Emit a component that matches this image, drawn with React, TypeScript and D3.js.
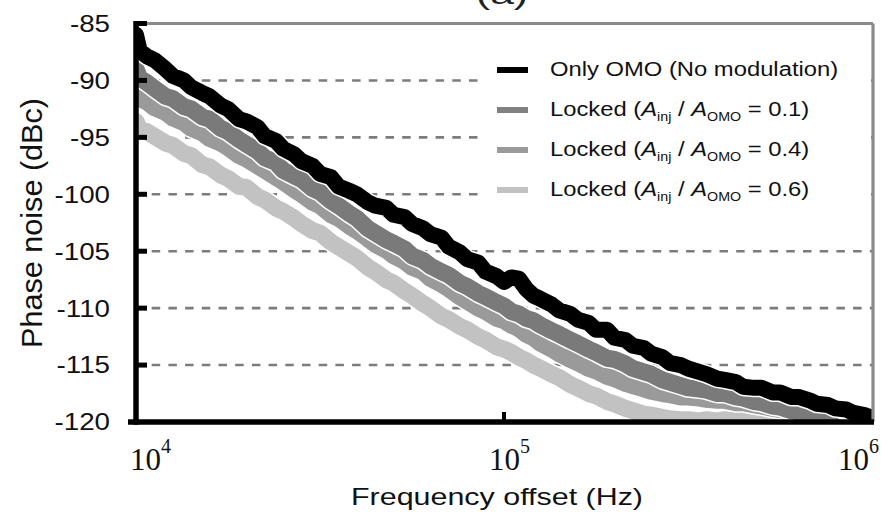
import React from "react";
import * as d3 from "d3";

// log10 of frequency offset (Hz) – common sampling grid
const freqExp = [
  4.0, 4.01, 4.03, 4.05, 4.08, 4.1, 4.13, 4.15, 4.18, 4.2, 4.23, 4.25, 4.28, 4.3, 4.33, 4.35,
  4.38, 4.4, 4.43, 4.45, 4.48, 4.5, 4.53, 4.55, 4.58, 4.6, 4.63, 4.65, 4.68, 4.7, 4.73, 4.75,
  4.78, 4.8, 4.83, 4.85, 4.88, 4.9, 4.93, 4.95, 4.98, 5.0, 5.02, 5.04, 5.06, 5.08, 5.1, 5.13,
  5.15, 5.18, 5.2, 5.23, 5.25, 5.28, 5.3, 5.33, 5.35, 5.38, 5.4, 5.43, 5.45, 5.48, 5.5, 5.53,
  5.55, 5.58, 5.6, 5.63, 5.65, 5.68, 5.7, 5.73, 5.75, 5.78, 5.8, 5.83, 5.85, 5.88, 5.9, 5.93,
  5.95, 5.98, 6.0,
];

const onlyOMO = [
  -86.0, -87.4, -87.9, -88.2, -89.0, -89.6, -90.0, -90.6, -91.1, -91.4, -92.2, -92.5, -93.4, -93.6, -94.1, -94.9,
  -95.3, -96.0, -96.5, -97.1, -97.5, -98.2, -98.5, -99.3, -99.7, -100.0, -100.7, -101.0, -101.2, -101.8, -102.0, -102.6,
  -103.0, -103.5, -103.8, -104.6, -105.1, -105.7, -106.0, -106.8, -107.2, -107.7, -107.3, -107.4, -108.3, -108.9, -109.2, -109.7,
  -110.2, -110.5, -111.0, -111.3, -111.9, -111.9, -112.6, -112.8, -113.3, -113.5, -114.0, -114.3, -114.8, -115.0, -115.3, -115.6,
  -115.8, -116.2, -116.3, -116.5, -116.9, -117.0, -117.0, -117.4, -117.4, -117.8, -117.8, -118.1, -118.4, -118.5, -118.8, -118.9,
  -119.2, -119.4, -119.6,
];

const locked01 = [
  -89.0, -89.8, -90.2, -90.7, -91.4, -91.6, -92.3, -92.5, -93.2, -93.4, -94.2, -94.5, -95.2, -95.6, -96.2, -96.8,
  -97.2, -97.9, -98.4, -98.7, -99.5, -99.8, -100.6, -101.0, -101.7, -102.1, -103.0, -103.4, -104.0, -104.3, -104.8, -105.4,
  -105.8, -106.3, -106.8, -107.1, -107.8, -108.1, -108.7, -109.0, -109.5, -109.8, -110.3, -110.5, -110.9, -111.1, -111.5, -112.0,
  -112.3, -112.8, -113.1, -113.6, -113.9, -114.4, -114.5, -114.9, -115.3, -115.6, -115.8, -116.3, -116.5, -116.8, -117.0, -117.1,
  -117.2, -117.5, -117.5, -117.8, -117.9, -118.2, -118.3, -118.6, -118.7, -119.0, -119.1, -119.5, -119.7, -120.0, -120.4, -121.0,
  -121.5, -122.0, -122.0,
];

const locked04 = [
  -91.0, -91.6, -91.9, -92.4, -92.8, -93.3, -93.7, -94.2, -94.6, -95.1, -95.5, -95.9, -96.6, -96.9, -97.5, -97.9,
  -98.5, -98.9, -99.6, -100.0, -100.7, -101.0, -101.8, -102.1, -102.8, -103.2, -103.9, -104.4, -104.9, -105.4, -105.9, -106.4,
  -106.8, -107.4, -107.9, -108.3, -109.0, -109.4, -110.0, -110.3, -110.9, -111.1, -111.5, -111.8, -112.3, -112.6, -113.1, -113.6,
  -114.0, -114.5, -114.8, -115.3, -115.5, -116.0, -116.2, -116.6, -116.8, -117.1, -117.3, -117.5, -117.6, -117.8, -117.8, -117.9,
  -118.0, -118.1, -118.1, -118.3, -118.3, -118.5, -118.6, -118.8, -118.9, -119.1, -119.3, -119.8, -120.4, -121.2, -122.0, -122.0,
  -122.0, -122.0, -122.0,
];

const locked06 = [
  -93.6, -94.3, -94.5, -94.9, -95.5, -95.7, -96.4, -96.6, -97.4, -97.6, -98.3, -98.6, -99.3, -99.4, -100.2, -100.5,
  -101.2, -101.5, -102.1, -102.6, -103.2, -103.4, -104.2, -104.6, -105.2, -105.6, -106.4, -106.8, -107.5, -107.8, -108.5, -108.9,
  -109.6, -110.0, -110.7, -111.0, -111.6, -111.9, -112.5, -112.8, -113.4, -113.6, -113.9, -114.3, -114.6, -115.0, -115.3, -115.8,
  -116.1, -116.7, -117.0, -117.5, -117.7, -118.2, -118.4, -118.8, -119.0, -119.3, -119.4, -119.6, -119.7, -119.8, -119.8, -119.9,
  -119.8, -119.9, -119.8, -119.9, -119.8, -119.9, -119.9, -120.0, -120.0, -120.1, -120.2, -120.6, -121.5, -122.0, -122.0, -122.0,
  -122.0, -122.0, -122.0,
];

const yTicks = [-85, -90, -95, -100, -105, -110, -115, -120];
const gridValues = [-90, -95, -100, -105, -110, -115];
const xTickExps = [4, 5, 6];

const seriesColors = ["#c2c2c2", "#9a9a9a", "#7a7a7a", "#000000"]; // 0.6, 0.4, 0.1, only OMO
const legendColors = ["#000000", "#808080", "#9a9a9a", "#c2c2c2"];
const legendRatios = ["0.1", "0.4", "0.6"];

const SANS = "'Liberation Sans', Arial, sans-serif";
const SERIF = "'Liberation Serif', 'Times New Roman', serif";

export default function App() {
  const W = 881;
  const H = 512;
  const left = 136;
  const right = 872;
  const top = 23.5;
  const bottom = 422;

  const x = d3.scaleLog().domain([1e4, 1e6]).range([left, right]);
  const y = d3.scaleLinear().domain([-120, -85]).range([bottom, top]);

  const line = d3
    .line<number>()
    .x((_, i) => x(Math.pow(10, freqExp[i])))
    .y((d) => y(d))
    .curve(d3.curveLinear);

  const series = [locked06, locked04, locked01, onlyOMO];
  const widths = [17, 17, 17, 16];

  const textStretch = 1.18;
  const legendBaselines = [76, 116, 156, 196];

  return (
    <svg
      width={W}
      height={H}
      viewBox={`0 0 ${W} ${H}`}
      style={{ position: "absolute", left: 0, top: 0, background: "#fff" }}
    >
      <defs>
        <clipPath id="plotClip">
          <rect x={left} y={top} width={right - left + 1} height={bottom - top} />
        </clipPath>
      </defs>
      <rect x={0} y={0} width={W} height={H} fill="#fff" />

      {/* title (cut off at top, as in the reference) */}
      <text
        x={476}
        y={4}
        fontFamily={SANS}
        fontSize={28}
        fill="#222"
        textLength={52}
        lengthAdjust="spacingAndGlyphs"
      >
        (a)
      </text>

      {/* dashed grid */}
      {gridValues.map((v) => (
        <line
          key={v}
          x1={143.5}
          x2={right}
          y1={y(v)}
          y2={y(v)}
          stroke="#7c7c7c"
          strokeWidth={2.6}
          strokeDasharray="8.5 8.2"
          strokeDashoffset={8.5}
        />
      ))}

      {/* legend background */}
      <rect x={478} y={27} width={right - 478 - 1} height={186} fill="#fff" />

      {/* data */}
      <g clipPath="url(#plotClip)">
        {series.map((s, k) => (
          <g key={k}>
            <path
              d={line(s) || ""}
              fill="none"
              stroke="#fff"
              strokeWidth={widths[k] + 3}
              strokeLinejoin="round"
              strokeLinecap="round"
            />
            <path
              d={line(s) || ""}
              fill="none"
              stroke={seriesColors[k]}
              strokeWidth={widths[k]}
              strokeLinejoin="round"
              strokeLinecap="round"
            />
          </g>
        ))}
      </g>

      {/* frame: top + right grey */}
      <line x1={left} x2={right + 1} y1={top} y2={top} stroke="#8a8a8a" strokeWidth={3.2} />
      <line x1={right + 1} x2={right + 1} y1={top} y2={bottom} stroke="#8a8a8a" strokeWidth={3.2} />

      {/* left axis */}
      <line x1={left} x2={left} y1={21} y2={bottom + 2.8} stroke="#000" strokeWidth={5.5} />
      {yTicks.slice(0, -1).map((v) => (
        <line key={v} x1={left} x2={147} y1={y(v)} y2={y(v)} stroke="#000" strokeWidth={5} />
      ))}
      {/* bottom axis */}
      <line x1={128} x2={right + 2} y1={bottom} y2={bottom} stroke="#000" strokeWidth={5.5} />
      {xTickExps.slice(1, -1).map((e) => (
        <line
          key={e}
          x1={x(Math.pow(10, e))}
          x2={x(Math.pow(10, e))}
          y1={bottom}
          y2={bottom - 10}
          stroke="#000"
          strokeWidth={4}
        />
      ))}

      {/* y tick labels */}
      {yTicks.map((v) => (
        <g key={v} transform={`translate(110,${y(v) + 8.4}) scale(${textStretch},1)`}>
          <text x={0} y={0} textAnchor="end" fontFamily={SANS} fontSize={23.5} fill="#111">
            {v}
          </text>
        </g>
      ))}

      {/* x tick labels */}
      {xTickExps.map((e, i) => {
        const starts = [130, 489, 838];
        return (
          <text key={e} x={starts[i]} y={470} fontFamily={SERIF} fontSize={31} fill="#111">
            10
            <tspan fontSize={20} dy={-17}>
              {e}
            </tspan>
          </text>
        );
      })}

      {/* axis titles */}
      <text
        x={497}
        y={505}
        textAnchor="middle"
        fontFamily={SANS}
        fontSize={24}
        fill="#111"
        textLength={292}
        lengthAdjust="spacingAndGlyphs"
      >
        Frequency offset (Hz)
      </text>
      <g transform={`translate(42,223) scale(${textStretch},1) rotate(-90)`}>
        <text
          x={0}
          y={0}
          textAnchor="middle"
          fontFamily={SANS}
          fontSize={25}
          fill="#111"
          textLength={250}
          lengthAdjust="spacingAndGlyphs"
        >
          Phase noise (dBc)
        </text>
      </g>

      {/* legend */}
      {legendBaselines.map((b, i) => (
        <g key={i}>
          <line x1={497} x2={528} y1={b - 6} y2={b - 6} stroke={legendColors[i]} strokeWidth={6} />
          <g transform={`translate(550,${b}) scale(1.19,1)`}>
            {i === 0 ? (
              <text x={0} y={0} fontFamily={SANS} fontSize={20} fill="#111">
                Only OMO (No modulation)
              </text>
            ) : (
              <text x={0} y={0} fontFamily={SANS} fontSize={20} fill="#111">
                Locked (
                <tspan fontStyle="italic">A</tspan>
                <tspan fontSize={12} dy={5}>
                  inj
                </tspan>
                <tspan dy={-5}> / </tspan>
                <tspan fontStyle="italic">A</tspan>
                <tspan fontSize={12} dy={5}>
                  OMO
                </tspan>
                <tspan dy={-5}>{` = ${legendRatios[i - 1]})`}</tspan>
              </text>
            )}
          </g>
        </g>
      ))}
    </svg>
  );
}
